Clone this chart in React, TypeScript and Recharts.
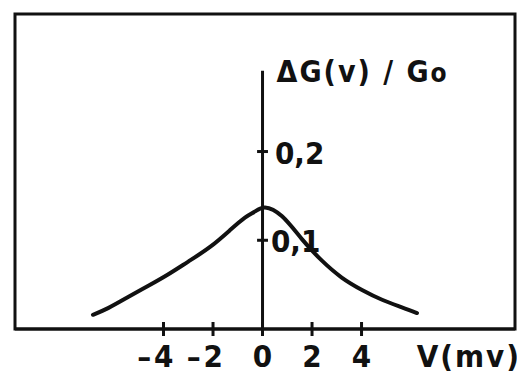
import React from "react";
import { LineChart, Line, XAxis, YAxis, ReferenceLine, ReferenceArea } from "recharts";

const voltages = [-6.85, -6.24, -5.43, -4.63, -3.82, -3.0, -2.12, -1.31, -0.71, -0.3, 0.1, 0.79, 1.6, 2.4, 3.2, 4.02, 4.83, 5.63, 6.24];
const conductance = [0.016, 0.0235, 0.036, 0.0485, 0.0615, 0.076, 0.0925, 0.1115, 0.1255, 0.1325, 0.137, 0.127, 0.101, 0.077, 0.058, 0.044, 0.033, 0.0245, 0.018];
const xTicks = [-4, -2, 0, 2, 4];
const yTicks = [0.1, 0.2];
const yTickLabels = ["0,1", "0,2"];
const yAxisTop = 0.291;
const xDomain = [-10, 10.2];
const yDomain = [0, 0.355];
const yLabel = "ΔG(v) / G";
const yLabelSub = "o";
const xLabel = "V(mv)";

const data = voltages.map((v, i) => ({ v, g: conductance[i] }));

const FONT = "'DejaVu Sans Condensed', 'DejaVu Sans', sans-serif";
const INK = "#111";

const XTick = (props: any) => {
  const { x, y, payload } = props;
  const v = payload.value as number;
  return (
    <g>
      <line x1={x} x2={x} y1={y - 7} y2={y + 7} stroke={INK} strokeWidth={3} />
      {v < 0 ? (
        <text x={x + 10} y={y + 38} textAnchor="end" fontFamily={FONT} fontWeight="bold" fontSize={31} fill={INK}>
          –<tspan dx={3}>{Math.abs(v)}</tspan>
        </text>
      ) : (
        <text x={x} y={y + 38} textAnchor="middle" fontFamily={FONT} fontWeight="bold" fontSize={31} fill={INK}>
          {v}
        </text>
      )}
    </g>
  );
};

export default function App() {
  return (
    <LineChart width={517} height={366} data={data} margin={{ top: 6, right: 10, left: 7, bottom: 0 }}>
      <XAxis
        dataKey="v"
        type="number"
        domain={xDomain}
        ticks={xTicks}
        tick={<XTick />}
        tickLine={false}
        tickSize={0}
        tickMargin={0}
        height={45}
        axisLine={{ stroke: INK, strokeWidth: 3 }}
        allowDataOverflow
        label={(p: any) => {
          const vb = p.viewBox;
          return (
            <text x={vb.x + vb.width + 6} y={vb.y + 38} textAnchor="end" fontFamily={FONT} fontWeight="bold" fontSize={31} letterSpacing={2} fill={INK}>
              {xLabel}
            </text>
          );
        }}
      />
      <YAxis type="number" domain={yDomain} hide allowDataOverflow />
      <ReferenceArea
        x1={xDomain[0]}
        x2={xDomain[1]}
        y1={yDomain[0]}
        y2={yDomain[1]}
        fill="none"
        fillOpacity={0}
        stroke={INK}
        strokeWidth={3}
        ifOverflow="visible"
      />
      <ReferenceLine
        segment={[{ x: 0, y: 0 }, { x: 0, y: yAxisTop }]}
        stroke={INK}
        strokeWidth={3}
        ifOverflow="visible"
        label={(p: any) => {
          const vb = p.viewBox;
          return (
            <text x={vb.x + 14} y={vb.y + 11} fontFamily={FONT} fontWeight="bold" fontSize={30} letterSpacing={2} fill={INK}>
              {yLabel}
              <tspan fontSize={26}>{yLabelSub}</tspan>
            </text>
          );
        }}
      />
      {yTicks.map((t, i) => (
        <ReferenceLine
          key={t}
          segment={[{ x: -0.22, y: t }, { x: 0.22, y: t }]}
          stroke={INK}
          strokeWidth={3}
          ifOverflow="visible"
          label={(p: any) => {
            const vb = p.viewBox;
            return (
              <text x={vb.x + (vb.width || 0) + (i === 1 ? 7 : 3)} y={vb.y + 12} fontFamily={FONT} fontWeight="bold" fontSize={31} fill={INK}>
                {yTickLabels[i]}
              </text>
            );
          }}
        />
      ))}
      <Line
        type="natural"
        dataKey="g"
        stroke={INK}
        strokeWidth={4}
        dot={false}
        isAnimationActive={false}
        strokeLinecap="round"
      />
    </LineChart>
  );
}
